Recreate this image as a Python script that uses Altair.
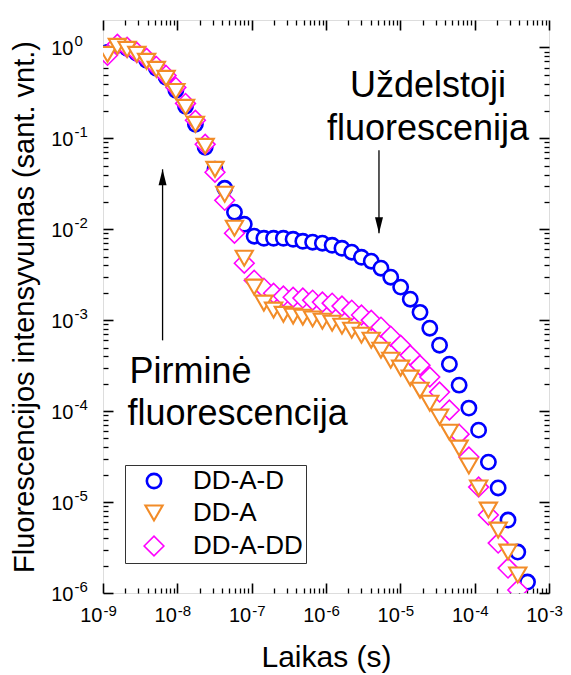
import altair as alt
import pandas as pd

FONT = "Liberation Sans"

# ---- data ----
time_s = [1.15e-9, 1.56e-9, 2.11e-9, 2.85e-9, 3.86e-9, 5.22e-9, 7.06e-9, 9.56e-9,
          1.29e-8, 1.75e-8, 2.37e-8, 3.21e-8, 4.34e-8, 5.87e-8, 7.95e-8,
          1.08e-7, 1.46e-7, 1.97e-7, 2.67e-7, 3.61e-7, 4.88e-7, 6.61e-7, 8.94e-7,
          1.21e-6, 1.64e-6, 2.22e-6, 3.00e-6, 4.06e-6, 5.49e-6, 7.43e-6,
          1.01e-5, 1.36e-5, 1.84e-5, 2.49e-5, 3.37e-5, 4.57e-5, 6.18e-5, 8.36e-5,
          1.13e-4, 1.53e-4, 2.07e-4, 2.81e-4, 3.80e-4, 5.14e-4]

dd_a_d = [0.881, 1.052, 0.975, 0.859, 0.720, 0.588, 0.468, 0.337,
          0.225, 0.1425, 0.0796, 0.0456, 0.0282, 0.0154, 0.01135,
          0.00838, 0.00796, 0.00796, 0.00796, 0.00776, 0.00738, 0.00720, 0.00702,
          0.00667, 0.00618, 0.00559, 0.00492, 0.00445, 0.00373, 0.00297,
          0.00231, 0.00170, 0.00122, 0.000817, 0.000531, 0.000328, 0.000193, 0.000108,
          6.18e-5, 2.75e-5, 1.43e-5, 6.34e-6, 2.82e-6, 1.32e-6]

dd_a = [0.838, 1.026, 0.951, 0.838, 0.702, 0.573, 0.456, 0.328,
        0.219, 0.1425, 0.0817, 0.0456, 0.0243, 0.01026, 0.00480,
        0.00231, 0.00154, 0.00129, 0.00116, 0.00111, 0.00108, 0.00103, 0.000975,
        0.000927, 0.000859, 0.000776, 0.000684, 0.000603, 0.000468, 0.000363,
        0.000297, 0.000231, 0.000170, 0.000122, 8.59e-5, 5.87e-5, 3.92e-5, 2.49e-5,
        1.43e-5, 8.17e-6, 4.92e-6, 2.82e-6, 1.58e-6]

dd_a_dd = [0.817, 1.079, 1.0, 0.881, 0.757, 0.618, 0.492, 0.363,
           0.242, 0.158, 0.0859, 0.0423, 0.0208, 0.00904, 0.00423,
           0.00275, 0.00225, 0.00198, 0.00184, 0.00179, 0.00175, 0.00166, 0.00158,
           0.00154, 0.00143, 0.00129, 0.00114, 0.00100, 0.000838, 0.000667,
           0.000531, 0.000412, 0.000320, 0.000237, 0.000162, 0.000103, 5.58e-5, 3.13e-5,
           1.46e-5, 7.20e-6, 3.54e-6, 1.88e-6, 1.08e-6]

series_names = ["DD-A-D", "DD-A", "DD-A-DD"]
series_colors = ["#0000FF", "#F28C28", "#FF00FF"]
series_shapes = ["circle", "triangle-down", "diamond"]

x_major = [1e-9, 1e-8, 1e-7, 1e-6, 1e-5, 1e-4, 1e-3]
x_tick_exponents = ["-9", "-8", "-7", "-6", "-5", "-4", "-3"]
y_major = [1e0, 1e-1, 1e-2, 1e-3, 1e-4, 1e-5, 1e-6]
y_tick_exponents = ["0", "-1", "-2", "-3", "-4", "-5", "-6"]
tick_base = "10"
x_minor = [m * d for d in x_major[:-1] for m in range(2, 10)]
y_minor = [m * d for d in y_major[1:] for m in range(2, 10)]

ann_text = ["Uždelstoji", "fluorescenija", "Pirminė", "fluorescencija"]
ann_x = [2.36e-5, 2.36e-5, 2.28e-9, 2.14e-9]
ann_y = [0.285, 0.097, 2.03e-4, 7.0e-5]
ann_align = ["center", "center", "left", "left"]

arrow_x = [6.33e-9, 5.16e-6]
arrow_tail = [6.0e-4, 0.0738]
arrow_tip = [0.0456, 0.00904]
arrow_dir = ["up", "down"]

# ---- tables ----
rows = []
for name, vals in [("DD-A-D", dd_a_d), ("DD-A-DD", dd_a_dd), ("DD-A", dd_a)]:
    for t, v in zip(time_s, vals):
        rows.append({"t": t, "I": v, "series": name})
df = pd.DataFrame(rows)

ann_df = pd.DataFrame({"text": ann_text, "x": ann_x, "y": ann_y, "align": ann_align})
arr_df = pd.DataFrame({"x": arrow_x, "y0": arrow_tail, "y1": arrow_tip, "dir": arrow_dir})

xs = alt.Scale(type="log", domain=[1e-9, 1e-3], nice=False)
ys = alt.Scale(type="log", domain=[1e-6, 2], nice=False)


def make_axis(orient, values, size, width, tick_opacity=1, labels=None, title=None, title_opts=None):
    kw = dict(orient=orient, values=values, tickSize=size, offset=-size, domain=False,
              grid=False, ticks=True, tickColor="black", tickWidth=width,
              tickOpacity=tick_opacity, labels=labels is not None)
    if labels is not None:
        kw.update(labelFont=FONT, labelColor="black", labelFlush=False, labelOverlap=False,
                  labelBound=False, **labels)
    if title:
        kw.update(title=title, titleFont=FONT, titleFontWeight="normal", titleColor="black",
                  **(title_opts or {}))
    else:
        kw.update(title=None)
    return alt.Axis(**kw)


x_exp_expr = "[" + ",".join("'%s'" % s for s in x_tick_exponents) + "][round(log(datum.value)/LN10)+9]"
y_exp_expr = "[" + ",".join("'%s'" % s for s in y_tick_exponents) + "][round(-log(datum.value)/LN10)]"
base_expr = "'%s'" % tick_base

x_base_axis = make_axis("bottom", x_major, 10, 1.6,
                        labels=dict(labelExpr=base_expr, labelFontSize=20, labelAlign="right",
                                    labelBaseline="alphabetic", labelPadding=28, labelOffset=-1),
                        title="Laikas (s)", title_opts=dict(titleFontSize=30, titlePadding=17))
y_base_axis = make_axis("left", y_major, 10, 1.6,
                        labels=dict(labelExpr=base_expr, labelFontSize=20, labelAlign="right",
                                    labelBaseline="middle", labelPadding=30, labelOffset=1),
                        title="Fluorescencijos intensyvumas (sant. vnt.)",
                        title_opts=dict(titleFontSize=29, titlePadding=11))
x_exp_axis = make_axis("bottom", x_major, 10, 1.6, tick_opacity=0,
                       labels=dict(labelExpr=x_exp_expr, labelFontSize=15, labelAlign="left",
                                   labelBaseline="alphabetic", labelPadding=22, labelOffset=0))
y_exp_axis = make_axis("left", y_major, 10, 1.6, tick_opacity=0,
                       labels=dict(labelExpr=y_exp_expr, labelFontSize=15, labelAlign="left",
                                   labelBaseline="middle", labelPadding=29, labelOffset=-7))

points = alt.Chart(df).mark_point(fill="white", fillOpacity=1, filled=False, clip=True, opacity=1).encode(
    x=alt.X("t:Q", scale=xs, axis=x_base_axis),
    y=alt.Y("I:Q", scale=ys, axis=y_base_axis),
    color=alt.Color("series:N", scale=alt.Scale(domain=series_names, range=series_colors),
                    legend=alt.Legend(title=None, orient="none", legendX=22, legendY=445,
                                      fillColor="white", strokeColor="#333333", padding=3,
                                      labelFont=FONT, labelFontSize=26, labelColor="black",
                                      rowPadding=6, labelOffset=26, symbolOffset=13, labelLimit=0)),
    shape=alt.Shape("series:N", scale=alt.Scale(domain=series_names, range=series_shapes)),
    size=alt.Size("series:N", scale=alt.Scale(domain=series_names, range=[205, 390, 430])),
    strokeWidth=alt.StrokeWidth("series:N", scale=alt.Scale(domain=series_names, range=[2.6, 1.6, 1.3])),
)

def axis_layer(xaxis, yaxis):
    return alt.Chart(df).mark_point(opacity=0).encode(
        x=alt.X("t:Q", scale=xs, axis=xaxis),
        y=alt.Y("I:Q", scale=ys, axis=yaxis),
    )

exp_bl = axis_layer(x_exp_axis, y_exp_axis)
minor_bl = axis_layer(make_axis("bottom", x_minor, 5, 1.3), make_axis("left", y_minor, 5, 1.3))
major_tr = axis_layer(make_axis("top", x_major, 10, 1.6), make_axis("right", y_major, 10, 1.6))
minor_tr = axis_layer(make_axis("top", x_minor, 5, 1.3), make_axis("right", y_minor, 5, 1.3))

rules = alt.Chart(arr_df).mark_rule(color="black", strokeWidth=1.3).encode(
    x=alt.X("x:Q", scale=xs, axis=None),
    y=alt.Y("y0:Q", scale=ys, axis=None),
    y2="y1:Q",
)
head_up = alt.Chart(arr_df).transform_filter(alt.datum.dir == "up").mark_point(
    shape="M0,0L-0.25,1L0.25,1Z", filled=True, color="black", size=1024, opacity=1).encode(
    x=alt.X("x:Q", scale=xs, axis=None), y=alt.Y("y1:Q", scale=ys, axis=None))
head_down = alt.Chart(arr_df).transform_filter(alt.datum.dir == "down").mark_point(
    shape="M0,0L-0.25,-1L0.25,-1Z", filled=True, color="black", size=1024, opacity=1).encode(
    x=alt.X("x:Q", scale=xs, axis=None), y=alt.Y("y1:Q", scale=ys, axis=None))

texts_c = alt.Chart(ann_df).transform_filter(alt.datum.align == "center").mark_text(
    font=FONT, fontSize=36, color="black", align="center", baseline="alphabetic").encode(
    x=alt.X("x:Q", scale=xs, axis=None), y=alt.Y("y:Q", scale=ys, axis=None), text="text:N")
texts_l = alt.Chart(ann_df).transform_filter(alt.datum.align == "left").mark_text(
    font=FONT, fontSize=36, color="black", align="left", baseline="alphabetic").encode(
    x=alt.X("x:Q", scale=xs, axis=None), y=alt.Y("y:Q", scale=ys, axis=None), text="text:N")

chart = alt.layer(
    points, exp_bl, minor_bl, major_tr, minor_tr, rules, head_up, head_down, texts_c, texts_l
).resolve_axis(x="independent", y="independent").properties(
    width=446, height=573,
    padding={"left": 95, "top": 12, "right": 14, "bottom": 80},
    autosize=alt.AutoSizeParams(type="none"),
).configure_view(stroke="black", strokeWidth=2).configure(font=FONT, background="white")

chart.save("out.html", embed_options={"renderer": "svg", "actions": False})
